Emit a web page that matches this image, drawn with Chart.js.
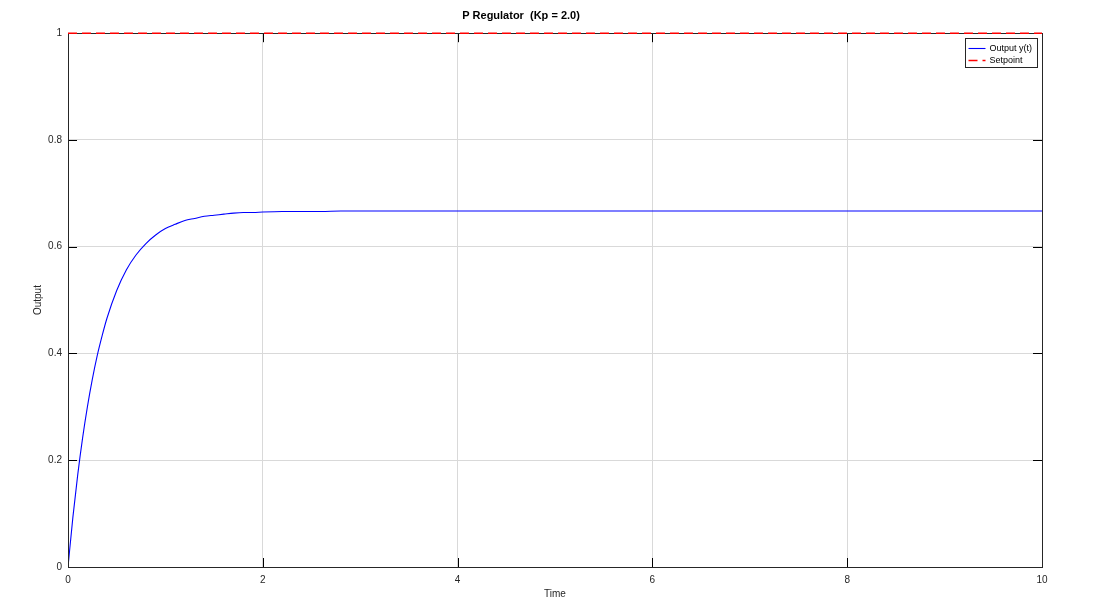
<!DOCTYPE html>
<html>
<head>
<meta charset="utf-8">
<script src="https://cdn.jsdelivr.net/npm/chart.js@4.4.0/dist/chart.umd.min.js"></script>
<style>
  html, body { margin: 0; padding: 0; background: #fff; }
  #wrap { width: 1098px; height: 605px; }
</style>
</head>
<body>
<div id="wrap"><canvas id="myChart" width="1098" height="605"></canvas></div>
<script>
// data
const timeValues = [0, 0.05, 0.1, 0.15, 0.2, 0.25, 0.3, 0.35, 0.4, 0.5, 0.6, 0.7, 0.8, 0.9, 1.0,
    1.1, 1.2, 1.3, 1.4, 1.5, 1.6, 1.7, 1.8, 1.9, 2.0, 2.2, 2.4, 2.6, 2.8, 3.0,
    4, 5, 6, 7, 8, 9, 10];
const outputValues = [0, 0.093, 0.173, 0.242, 0.301, 0.352, 0.396, 0.433, 0.466, 0.518, 0.557, 0.585, 0.606, 0.622, 0.634,
    0.642, 0.649, 0.653, 0.657, 0.659, 0.661, 0.663, 0.664, 0.664, 0.665, 0.666, 0.666, 0.666, 0.667, 0.667,
    0.667, 0.667, 0.667, 0.667, 0.667, 0.667, 0.667];
const setpointTime = [0, 10];
const setpointValues = [1, 1];
const xTicks = [0, 2, 4, 6, 8, 10];
const yTicks = [0, 0.2, 0.4, 0.6, 0.8, 1];

const outputPoints = timeValues.map((t, i) => ({ x: t, y: outputValues[i] }));
const setpointPoints = setpointTime.map((t, i) => ({ x: t, y: setpointValues[i] }));
const fontFam = '"Liberation Sans", Arial, sans-serif';

// inward ticks on all four sides + frame + legend box
const frameAndLegend = {
    id: 'frameAndLegend',
    afterDatasetsDraw(chart) {
        const c = chart.ctx;
        const a = chart.chartArea;
        const xs = chart.scales.x, ys = chart.scales.y;
        c.save();
        c.strokeStyle = '#000';
        c.lineWidth = 1;
        c.beginPath();
        for (const v of xTicks) {
            const px = Math.round(xs.getPixelForValue(v)) + 0.5;
            c.moveTo(px, a.bottom); c.lineTo(px, a.bottom - 9);
            c.moveTo(px, a.top); c.lineTo(px, a.top + 9);
        }
        for (const v of yTicks) {
            const py = Math.round(ys.getPixelForValue(v)) + 0.5;
            c.moveTo(a.left, py); c.lineTo(a.left + 9, py);
            c.moveTo(a.right, py); c.lineTo(a.right - 9, py);
        }
        c.stroke();
        c.strokeStyle = '#262626';
        c.strokeRect(Math.round(a.left) + 0.5, Math.round(a.top) + 0.5,
            Math.round(a.right - a.left), Math.round(a.bottom - a.top));
        // redraw setpoint over the frame
        chart.getDatasetMeta(1).controller.draw();

        // legend
        const bx = 965.5, by = 38.5, bw = 72, bh = 29;
        c.fillStyle = '#fff';
        c.fillRect(bx, by, bw, bh);
        c.strokeStyle = '#262626';
        c.strokeRect(bx, by, bw, bh);
        c.font = '9px ' + fontFam;
        c.textBaseline = 'middle';
        c.fillStyle = '#000';
        chart.data.datasets.forEach((ds, i) => {
            const ly = Math.round(by + 9 + i * 12.5) + 0.5;
            c.beginPath();
            c.strokeStyle = ds.borderColor;
            c.lineWidth = ds.borderWidth;
            c.setLineDash(ds.borderDash || []);
            c.moveTo(bx + 3, ly); c.lineTo(bx + 20, ly);
            c.stroke();
            c.setLineDash([]);
            c.fillText(ds.label, bx + 24, ly);
        });
        c.restore();
    }
};

const ctx = document.getElementById('myChart');
new Chart(ctx, {
    type: 'scatter',
    data: {
        datasets: [{
            label: 'Output y(t)',
            data: outputPoints,
            showLine: true,
            borderColor: '#0000ff',
            borderWidth: 1.1,
            pointRadius: 0,
            cubicInterpolationMode: 'monotone'
        }, {
            label: 'Setpoint',
            data: setpointPoints,
            showLine: true,
            borderColor: '#ff0000',
            borderWidth: 1.5,
            borderDash: [9, 5],
            pointRadius: 0
        }]
    },
    options: {
        responsive: false,
        animation: false,
        devicePixelRatio: 1,
        layout: { padding: { left: 0, right: 56, top: 0, bottom: 0 } },
        plugins: {
            legend: { display: false },
            tooltip: { enabled: false },
            title: {
                display: true,
                text: 'P Regulator  (Kp = 2.0)',
                color: '#000',
                font: { family: fontFam, size: 11, weight: 'bold', lineHeight: 1.2 },
                padding: { top: 9, bottom: 11 }
            }
        },
        scales: {
            x: {
                type: 'linear',
                min: 0, max: 10,
                afterBuildTicks: s => { s.ticks = xTicks.map(v => ({ value: v })); },
                afterFit: s => { s.height = 38; },
                grid: { color: '#d9d9d9', lineWidth: 1, drawTicks: false },
                border: { display: false },
                ticks: { color: '#262626', padding: 7, font: { family: fontFam, size: 10 }, maxRotation: 0,
                    callback: v => String(v) },
                title: { display: true, text: 'Time', color: '#262626', padding: { top: 0, bottom: 5 },
                    font: { family: fontFam, size: 10 } }
            },
            y: {
                type: 'linear',
                min: 0, max: 1,
                afterBuildTicks: s => { s.ticks = yTicks.map(v => ({ value: v })); },
                afterFit: s => { s.width = 68; },
                grid: { color: '#d9d9d9', lineWidth: 1, drawTicks: false },
                border: { display: false },
                ticks: { color: '#262626', padding: 6, font: { family: fontFam, size: 10 },
                    callback: v => String(v) },
                title: { display: true, text: 'Output', color: '#262626', padding: { top: 32, bottom: 0 },
                    font: { family: fontFam, size: 10 } }
            }
        }
    },
    plugins: [frameAndLegend]
});
</script>
</body>
</html>
